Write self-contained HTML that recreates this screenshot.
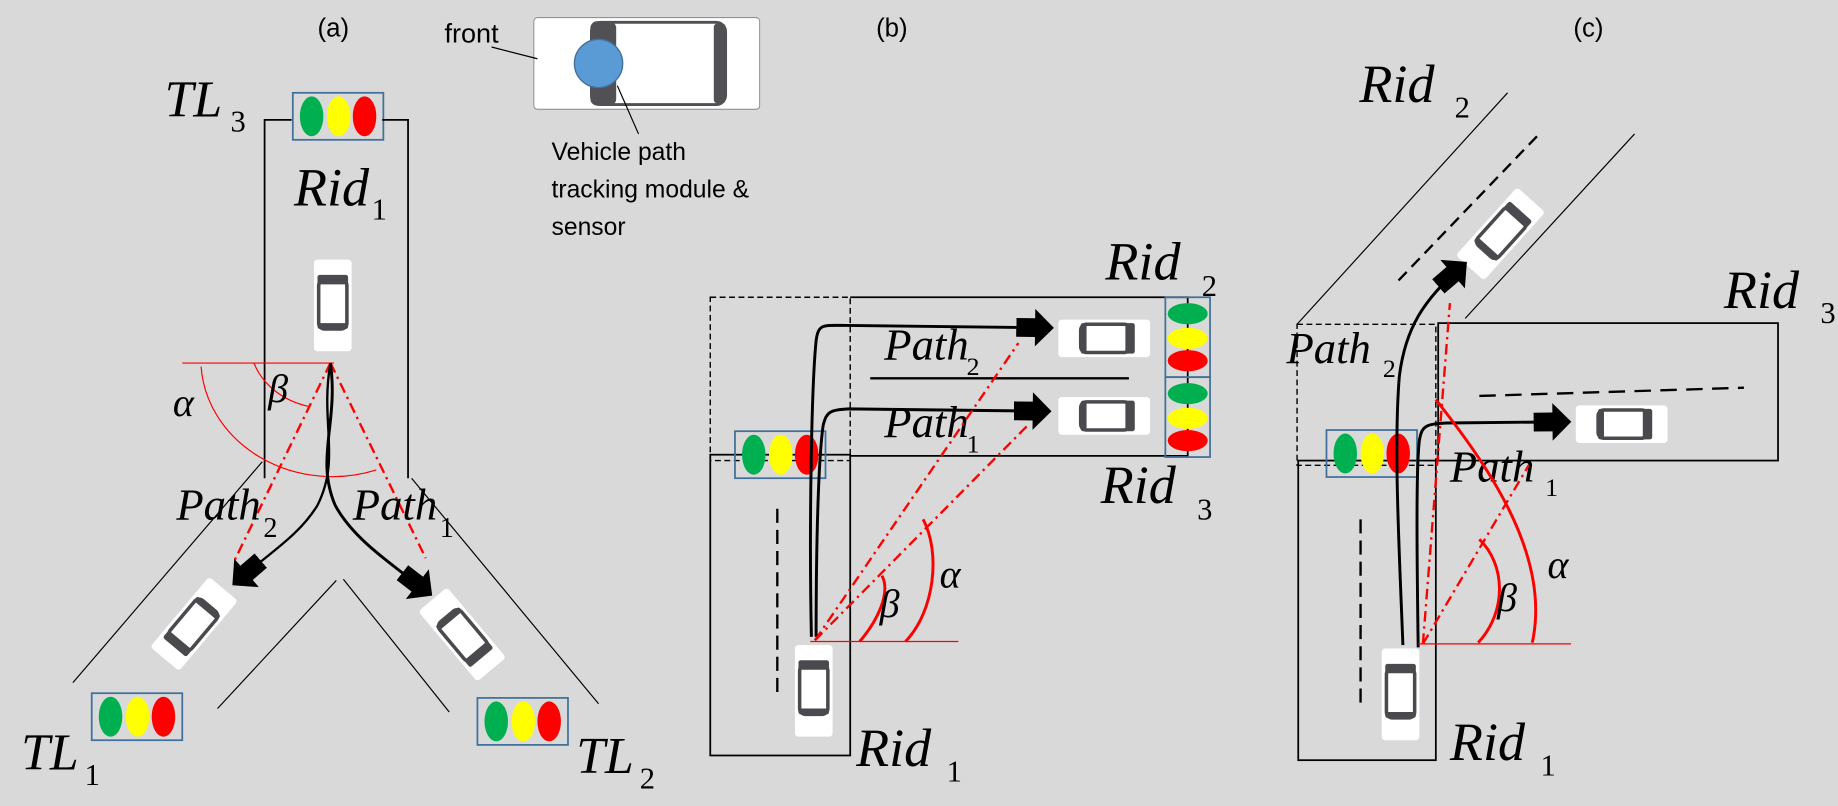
<!DOCTYPE html>
<html><head><meta charset="utf-8"><style>
html,body{margin:0;padding:0;background:#d9d9d9;}
svg{display:block}
.m{font-family:"Liberation Serif",serif;font-style:italic;fill:#000}
.s{font-family:"Liberation Serif",serif;fill:#000}
.c{font-family:"Liberation Sans",sans-serif;fill:#000}
</style></head><body>
<svg width="1838" height="806" viewBox="0 0 1563 686" preserveAspectRatio="none" xmlns="http://www.w3.org/2000/svg">
<defs>
<g id="car">
<rect x="-16" y="-39" width="32" height="78" rx="3" fill="#fff"/>
<rect x="-12" y="-22" width="24" height="42" rx="5" fill="#fff" stroke="#4a4a4e" stroke-width="3"/>
<rect x="-13" y="-26" width="26" height="8" rx="2" fill="#4a4a4e"/>
<rect x="-13" y="15" width="26" height="5" rx="2" fill="#4a4a4e"/>
</g>
<g id="tlh">
<rect x="-38" y="-20" width="77" height="40" fill="none" stroke="#41719c" stroke-width="1.5"/>
<ellipse cx="-22" cy="0" rx="10" ry="17" fill="#00b050"/>
<ellipse cx="1" cy="0" rx="10" ry="17" fill="#ffff00"/>
<ellipse cx="23" cy="0" rx="10" ry="17" fill="#ff0000"/>
</g>
<g id="tlv">
<rect x="-19" y="-34" width="38" height="68" fill="none" stroke="#41719c" stroke-width="1.5"/>
<ellipse cx="0" cy="-20" rx="17" ry="9" fill="#00b050"/>
<ellipse cx="0" cy="1" rx="17" ry="9" fill="#ffff00"/>
<ellipse cx="0" cy="20" rx="17" ry="9" fill="#ff0000"/>
</g>
<marker id="ar" viewBox="0 0 10 10" refX="9" refY="5" markerWidth="32" markerHeight="32" markerUnits="userSpaceOnUse" orient="auto">
<path d="M0,2.5 L5,2.5 L5,0 L10,5 L5,10 L5,7.5 L0,7.5Z" fill="#000"/>
</marker>
</defs>

<!-- ===== Panel (a) ===== -->
<text x="270" y="31" class="c" font-size="22">(a)</text>
<use href="#tlh" x="287" y="99"/>
<text x="140" y="99" class="m" font-size="44">TL</text><text x="196" y="112" class="s" font-size="26">3</text>
<polyline points="225,407 225,102 248,102" fill="none" stroke="#000" stroke-width="1.5"/>
<polyline points="325,102 347,102 347,407" fill="none" stroke="#000" stroke-width="1.5"/>
<text x="250" y="175" class="m" font-size="46">Rid</text><text x="316" y="187" class="s" font-size="26">1</text>
<use href="#car" x="283" y="260"/>
<line x1="155" y1="309" x2="284" y2="309" stroke="#f00" stroke-width="1"/>
<path d="M171,312 A112,100 0 0 0 320,400" fill="none" stroke="#f00" stroke-width="1"/>
<path d="M216,309 A66,56 0 0 0 263,346" fill="none" stroke="#f00" stroke-width="1"/>
<text x="147" y="354" class="m" font-size="34">α</text>
<text x="228" y="342" class="m" font-size="34">β</text>
<line x1="281" y1="309" x2="198" y2="480" stroke="#f00" stroke-width="2" stroke-dasharray="9,4,2,4"/>
<line x1="281" y1="309" x2="362" y2="475" stroke="#f00" stroke-width="2" stroke-dasharray="9,4,2,4"/>
<path d="M281,309 C272,360 290,390 270,430 C255,455 230,470 200,496" fill="none" stroke="#000" stroke-width="2" marker-end="url(#ar)"/>
<path d="M281,309 C288,360 268,390 285,430 C300,458 330,478 365,505" fill="none" stroke="#000" stroke-width="2.5" marker-end="url(#ar)"/>
<text x="150" y="442" class="m" font-size="38">Path</text><text x="224" y="457" class="s" font-size="24">2</text>
<text x="300" y="442" class="m" font-size="38">Path</text><text x="374" y="457" class="s" font-size="24">1</text>
<line x1="223" y1="393" x2="62" y2="581" stroke="#000" stroke-width="1"/>
<line x1="286" y1="494" x2="185" y2="603" stroke="#000" stroke-width="1"/>
<line x1="292" y1="493" x2="382" y2="606" stroke="#000" stroke-width="1"/>
<line x1="350" y1="407" x2="509" y2="599" stroke="#000" stroke-width="1"/>
<use href="#car" transform="translate(165,531) rotate(-140)"/>
<use href="#car" transform="translate(393,540) rotate(140)"/>
<use href="#tlh" x="116" y="610"/>
<text x="18" y="655" class="m" font-size="44">TL</text><text x="72" y="668" class="s" font-size="26">1</text>
<use href="#tlh" x="444" y="614"/>
<text x="490" y="658" class="m" font-size="44">TL</text><text x="544" y="671" class="s" font-size="26">2</text>

<!-- legend car -->
<rect x="454" y="15" width="192" height="78" rx="3" fill="#fff" stroke="#888" stroke-width="0.8"/>
<rect x="503" y="19" width="114" height="70" rx="8" fill="#fff" stroke="#505055" stroke-width="2.5"/>
<rect x="502" y="18" width="22" height="72" rx="6" fill="#505055"/>
<rect x="607" y="20" width="10" height="68" rx="3" fill="#505055"/>
<circle cx="509" cy="54" r="20.5" fill="#5b9bd5" stroke="#41719c" stroke-width="1.2"/>
<text x="378" y="36" class="c" font-size="23">front</text>
<line x1="418" y1="40" x2="457" y2="50" stroke="#000" stroke-width="1"/>
<line x1="525" y1="73" x2="543" y2="114" stroke="#000" stroke-width="1"/>
<text x="469" y="136" class="c" font-size="21">Vehicle path</text>
<text x="469" y="168" class="c" font-size="21">tracking module &amp;</text>
<text x="469" y="200" class="c" font-size="21">sensor</text>

<!-- ===== Panel (b) ===== -->
<text x="745" y="31" class="c" font-size="22">(b)</text>
<rect x="604" y="253" width="119" height="139" fill="none" stroke="#000" stroke-width="1.2" stroke-dasharray="5,3"/>
<rect x="604" y="387" width="119" height="256" fill="none" stroke="#000" stroke-width="1.5"/>
<polyline points="723,253 1010,253 1010,388 723,388" fill="none" stroke="#000" stroke-width="1.5"/>
<line x1="740" y1="322" x2="960" y2="322" stroke="#000" stroke-width="2"/>
<use href="#tlv" x="1010" y="287"/>
<use href="#tlv" x="1010" y="355"/>
<use href="#car" transform="translate(939,288) rotate(90)"/>
<use href="#car" transform="translate(939,354) rotate(90)"/>
<text x="940" y="238" class="m" font-size="46">Rid</text><text x="1022" y="252" class="s" font-size="26">2</text>
<text x="936" y="428" class="m" font-size="46">Rid</text><text x="1018" y="442" class="s" font-size="26">3</text>
<use href="#tlh" x="663" y="387"/>
<line x1="661" y1="433" x2="661" y2="595" stroke="#000" stroke-width="2" stroke-dasharray="12,6"/>
<use href="#car" x="692" y="588"/>
<path d="M690,542 C688,450 690,330 694,290 C696,275 700,277 720,277 L893,279" fill="none" stroke="#000" stroke-width="2.5" marker-end="url(#ar)"/>
<path d="M694,542 C694,460 696,390 700,362 C703,350 706,349 722,348 L891,350" fill="none" stroke="#000" stroke-width="2.5" marker-end="url(#ar)"/>
<text x="752" y="306" class="m" font-size="38">Path</text><text x="822" y="319" class="s" font-size="22">2</text>
<text x="752" y="372" class="m" font-size="38">Path</text><text x="822" y="385" class="s" font-size="22">1</text>
<line x1="689" y1="546" x2="815" y2="546" stroke="#f00" stroke-width="1"/>
<line x1="693" y1="545" x2="866" y2="292" stroke="#f00" stroke-width="2" stroke-dasharray="9,4,2,4"/>
<line x1="693" y1="545" x2="874" y2="362" stroke="#f00" stroke-width="2" stroke-dasharray="9,4,2,4"/>
<path d="M731,546 C745,530 758,505 750,490" fill="none" stroke="#f00" stroke-width="2.5"/>
<path d="M770,546 C795,520 800,470 785,442" fill="none" stroke="#f00" stroke-width="2.5"/>
<text x="748" y="525" class="m" font-size="34">β</text>
<text x="799" y="500" class="m" font-size="34">α</text>
<text x="728" y="652" class="m" font-size="46">Rid</text><text x="805" y="665" class="s" font-size="26">1</text>

<!-- ===== Panel (c) ===== -->
<text x="1338" y="31" class="c" font-size="22">(c)</text>
<text x="1156" y="87" class="m" font-size="46">Rid</text><text x="1237" y="100" class="s" font-size="26">2</text>
<line x1="1282" y1="79" x2="1103" y2="276" stroke="#000" stroke-width="1"/>
<line x1="1390" y1="114" x2="1246" y2="271" stroke="#000" stroke-width="1"/>
<line x1="1307" y1="116" x2="1188" y2="240" stroke="#000" stroke-width="2" stroke-dasharray="10,6"/>
<use href="#car" transform="translate(1276,199) rotate(42)"/>
<rect x="1103" y="276" width="118" height="120" fill="none" stroke="#000" stroke-width="1.2" stroke-dasharray="5,3"/>
<rect x="1104" y="392" width="117" height="255" fill="none" stroke="#000" stroke-width="1.5"/>
<rect x="1223" y="275" width="289" height="117" fill="none" stroke="#000" stroke-width="1.5"/>
<text x="1466" y="262" class="m" font-size="46">Rid</text><text x="1548" y="275" class="s" font-size="26">3</text>
<line x1="1258" y1="337" x2="1483" y2="330" stroke="#000" stroke-width="2" stroke-dasharray="14,8"/>
<use href="#car" transform="translate(1379,361) rotate(90)"/>
<use href="#tlh" x="1166" y="386"/>
<line x1="1157" y1="442" x2="1157" y2="604" stroke="#000" stroke-width="2" stroke-dasharray="12,6"/>
<use href="#car" x="1191" y="591"/>
<path d="M1193,549 C1190,470 1185,380 1190,320 C1195,280 1210,255 1245,225" fill="none" stroke="#000" stroke-width="2.5" marker-end="url(#ar)"/>
<path d="M1206,551 C1205,480 1204,400 1207,375 C1209,362 1213,361 1230,360 L1333,359" fill="none" stroke="#000" stroke-width="2.5" marker-end="url(#ar)"/>
<text x="1094" y="309" class="m" font-size="38">Path</text><text x="1176" y="321" class="s" font-size="22">2</text>
<text x="1233" y="410" class="m" font-size="38">Path</text><text x="1314" y="422" class="s" font-size="22">1</text>
<line x1="1206" y1="548" x2="1336" y2="548" stroke="#f00" stroke-width="1"/>
<line x1="1210" y1="548" x2="1233" y2="258" stroke="#f00" stroke-width="2" stroke-dasharray="9,4,2,4"/>
<line x1="1210" y1="548" x2="1300" y2="396" stroke="#f00" stroke-width="2" stroke-dasharray="9,4,2,4"/>
<path d="M1221,340 C1260,390 1320,470 1303,547" fill="none" stroke="#f00" stroke-width="2.5"/>
<path d="M1258,459 C1280,480 1282,520 1257,547" fill="none" stroke="#f00" stroke-width="2.5"/>
<text x="1316" y="492" class="m" font-size="34">α</text>
<text x="1273" y="520" class="m" font-size="34">β</text>
<text x="1233" y="647" class="m" font-size="46">Rid</text><text x="1310" y="660" class="s" font-size="26">1</text>
</svg>
</body></html>
